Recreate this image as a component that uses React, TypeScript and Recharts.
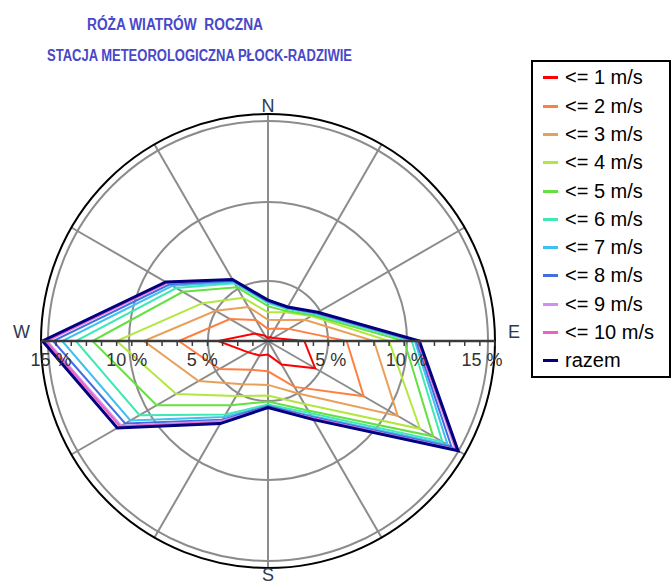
import { RadarChart, Radar, PolarGrid, PolarAngleAxis, PolarRadiusAxis } from 'recharts'

// kierunki co 30 stopni, od N zgodnie z ruchem wskazówek
const directions = ['N', '30°', '60°', 'E', '120°', '150°', 'S', '210°', '240°', 'W', '300°', '330°']

// udział [%] – wartości skumulowane wg prędkości
const upTo1 = [0.2, 0.3, 0.4, 2.4, 3.6, 1.8, 0.9, 1.1, 1.5, 3.3, 1.0, 0.4]
const upTo2 = [0.8, 0.95, 1.6, 5.2, 7.3, 3.5, 2.0, 2.2, 3.7, 5.9, 2.9, 1.6]
const upTo3 = [1.4, 1.6, 2.8, 7.0, 9.9, 4.0, 2.9, 3.3, 5.3, 8.2, 4.0, 2.6]
const upTo4 = [1.9, 2.2, 3.3, 8.0, 11.6, 4.8, 3.6, 4.2, 7.0, 10.0, 5.0, 3.3]
const upTo5 = [2.3, 2.3, 3.4, 9.0, 12.6, 5.3, 4.0, 4.9, 8.5, 11.6, 6.5, 4.1]
const upTo6 = [2.5, 2.45, 3.55, 9.5, 13.3, 5.5, 4.2, 5.6, 9.8, 12.7, 7.0, 4.4]
const upTo7 = [2.6, 2.5, 3.65, 9.7, 13.7, 5.7, 4.3, 5.8, 10.5, 13.6, 7.3, 4.5]
const upTo8 = [2.6, 2.55, 3.7, 9.8, 14.0, 5.8, 4.3, 6.0, 10.9, 14.2, 7.5, 4.6]
const upTo9 = [2.7, 2.6, 3.75, 9.9, 14.3, 5.9, 4.4, 6.1, 11.2, 14.6, 7.7, 4.7]
const upTo10 = [2.7, 2.6, 3.75, 9.9, 14.4, 5.9, 4.4, 6.2, 11.3, 14.7, 7.7, 4.7]
const total = [2.7, 2.6, 3.8, 10.0, 14.5, 6.0, 4.4, 6.3, 11.5, 14.9, 7.8, 4.7]

const seriesNames = ['<= 1 m/s', '<= 2 m/s', '<= 3 m/s', '<= 4 m/s', '<= 5 m/s', '<= 6 m/s', '<= 7 m/s', '<= 8 m/s', '<= 9 m/s', '<= 10 m/s', 'razem']
const seriesColors = ['#ff0000', '#ff7f40', '#e8a058', '#b4e640', '#64e040', '#40e8b4', '#40c0f0', '#4070e0', '#d090f0', '#f060c0', '#000080']
const seriesValues = [upTo1, upTo2, upTo3, upTo4, upTo5, upTo6, upTo7, upTo8, upTo9, upTo10, total]

const radiusTicks = [0, 1, 2, 3, 4, 5, 6, 7, 8, 9, 10, 11, 12, 13, 14, 15]
const gridRadii = [60, 139, 220]

const chartData = directions.map((dir, i) => {
  const row: Record<string, string | number> = { dir }
  seriesValues.forEach((vals, k) => {
    row[`s${k}`] = vals[i]
  })
  return row
})

const font = '"Liberation Sans", Arial, sans-serif'

function RadiusTick(props: any) {
  const { x, y, payload, side } = props
  const v = payload.value
  if (!v) return null
  return (
    <g>
      <line x1={x} y1={y} x2={x} y2={y + 5} stroke="#3a3a3a" strokeWidth={1.5} />
      {v % 5 === 0 && (
        <text x={x + (side === 'E' ? -13 : 10)} y={y + 25} textAnchor="middle" fontSize={18} fontFamily={font} fill="#333">
          {v} %
        </text>
      )}
    </g>
  )
}

function DirTick(props: any) {
  const { x, y, payload } = props
  const v = payload.value as string
  if (v.length > 1) return null
  let dx = 0
  let dy = 0
  let anchor = 'middle'
  if (v === 'N') dy = 6
  if (v === 'S') dy = 5
  if (v === 'E') { dx = 5; dy = -3; anchor = 'start' }
  if (v === 'W') { dx = -3; dy = -3; anchor = 'end' }
  return (
    <text x={x + dx} y={y + dy} textAnchor={anchor} fontSize={18} fontFamily={font} fill="#2b3a55">
      {v}
    </text>
  )
}

export default function App() {
  return (
    <div style={{ position: 'absolute', left: 0, top: 0, width: 671, height: 586, background: '#fff', overflow: 'hidden' }}>
      <RadarChart
        width={671}
        height={586}
        cx={268}
        cy={341}
        outerRadius={227}
        data={chartData}
        margin={{ top: 0, right: 0, bottom: 0, left: 0 }}
      >
        <PolarGrid gridType="circle" polarRadius={gridRadii} stroke="#8c8c8c" strokeWidth={2} />
        <PolarAngleAxis
          dataKey="dir"
          tickLine={false}
          axisLineType="circle"
          axisLine={{ stroke: '#000', strokeWidth: 2 }}
          tick={(p: any) => <DirTick {...p} />}
        />
        <PolarRadiusAxis
          angle={0}
          domain={[0, 15]}
          tickCount={radiusTicks.length}
          axisLine={{ stroke: '#3a3a3a', strokeWidth: 2.5 }}
          tick={(p: any) => <RadiusTick {...p} side="E" />}
        />
        <PolarRadiusAxis
          radiusAxisId="w"
          angle={180}
          domain={[0, 15]}
          tickCount={radiusTicks.length}
          axisLine={{ stroke: '#3a3a3a', strokeWidth: 2.5 }}
          tick={(p: any) => <RadiusTick {...p} side="W" />}
        />
        {/* niewidoczna seria – tylko po to, by oś zachodnia była rysowana */}
        <Radar
          radiusAxisId="w"
          dataKey={`s${seriesNames.length - 1}`}
          stroke="none"
          fill="none"
          fillOpacity={0}
          dot={false}
          legendType="none"
          isAnimationActive={false}
        />
        {seriesNames.map((name, k) => (
          <Radar
            key={name}
            name={name}
            dataKey={`s${k}`}
            stroke={seriesColors[k]}
            strokeWidth={k === seriesNames.length - 1 ? 3 : 2}
            fill="none"
            fillOpacity={0}
            dot={false}
            isAnimationActive={false}
          />
        ))}
      </RadarChart>

      <svg width={671} height={80} style={{ position: 'absolute', left: 0, top: 0 }}>
        <text x={87} y={30} textLength={176} lengthAdjust="spacingAndGlyphs" fontSize={16} fontWeight="bold" fontFamily={font} fill="#4848c8">
          {'RÓŻA WIATRÓW\u00A0 ROCZNA'}
        </text>
        <text x={47} y={61} textLength={305} lengthAdjust="spacingAndGlyphs" fontSize={16} fontWeight="bold" fontFamily={font} fill="#4848c8">
          STACJA METEOROLOGICZNA PŁOCK-RADZIWIE
        </text>
      </svg>

      <div
        style={{
          position: 'absolute',
          left: 531,
          top: 60,
          width: 136,
          height: 314,
          border: '2px solid #000',
          background: '#fff',
          fontFamily: font,
          fontSize: 20,
          color: '#000',
        }}
      >
        {seriesNames.map((name, k) => (
          <div key={name} style={{ position: 'absolute', left: 0, top: 1.3 + 28.3 * k, height: 28, width: 136 }}>
            <div style={{ position: 'absolute', left: 10, top: 13, width: 15, height: 3, background: seriesColors[k] }} />
            <div style={{ position: 'absolute', left: 32, top: 1, lineHeight: '26px', whiteSpace: 'nowrap' }}>{name}</div>
          </div>
        ))}
      </div>
    </div>
  )
}
